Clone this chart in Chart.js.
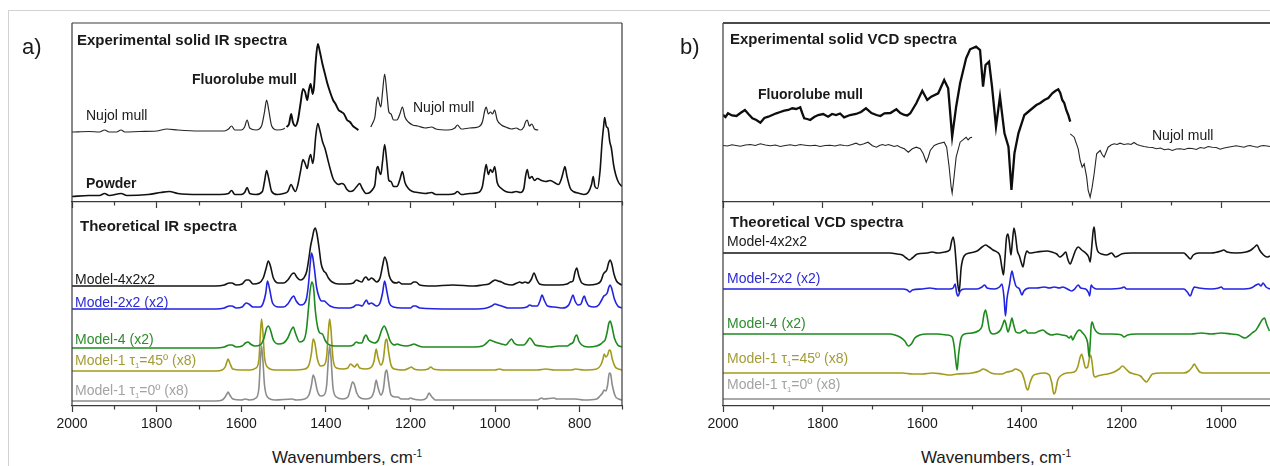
<!DOCTYPE html>
<html><head><meta charset="utf-8">
<script src="https://cdn.jsdelivr.net/npm/chart.js@4.4.1/dist/chart.umd.min.js"></script>
<style>
html,body{margin:0;padding:0;background:#fff;}
body{width:1270px;height:466px;position:relative;overflow:hidden;font-family:"Liberation Sans",Arial,sans-serif;color:#1a1a1a;}
.outer{position:absolute;left:8px;top:10px;width:1270px;height:470px;border-left:1px solid #d2d2d2;border-top:1px solid #d2d2d2;}
canvas{position:absolute;}
.lbl{position:absolute;white-space:nowrap;line-height:1;font-size:14px;}
.b{font-weight:bold;}
.t{font-size:15px;font-weight:bold;}
.pl{font-size:22px;}
.ax{font-size:17px;transform:translateX(-50%);}
sup{font-size:60%;vertical-align:6px;line-height:0;}
sub{font-size:55%;vertical-align:-3px;line-height:0;}
</style></head><body>
<div class="outer"></div>
<script>
// ---------------- DATA (wavenumber cm-1, intensity, px units) ----------------
const xTicks = [2000,1900,1800,1700,1600,1500,1400,1300,1200,1100,1000,900,800,700];
const xTickLabels = ['2000','','1800','','1600','','1400','','1200','','1000','','800',''];

// Panel a: experimental IR
const irNujolA = [[2000,0],[1960,0.5],[1935,0],[1923,2],[1912,0],[1895,0],[1884,2],[1875,0],[1840,0.5],[1800,1],[1775,3],[1750,2],[1700,1],[1660,1],[1640,1],[1630,3],[1623,6],[1615,2],[1600,2],[1592,5],[1586,12],[1580,4],[1565,2],[1552,6],[1545,20],[1540,32],[1535,22],[1528,6],[1515,2],[1500,3],[1497,4]];
const irFluoro = [[1493,5],[1487,8],[1482,18],[1478,10],[1472,6],[1466,12],[1460,28],[1454,43],[1449,40],[1444,32],[1440,42],[1436,48],[1431,38],[1428,45],[1424,70],[1419,88],[1414,80],[1408,68],[1402,58],[1396,48],[1390,40],[1383,32],[1377,28],[1370,22],[1363,20],[1357,18],[1350,12],[1343,10],[1336,6],[1330,4],[1323,2]];
const irNujolB = [[1294,5],[1288,10],[1284,15],[1280,30],[1277,35],[1273,28],[1270,25],[1266,40],[1261,58],[1256,40],[1251,20],[1246,18],[1240,12],[1232,12],[1225,18],[1219,25],[1213,15],[1205,10],[1195,7],[1183,6],[1165,4],[1150,5],[1140,3],[1110,2],[1095,4],[1089,7],[1080,3],[1060,4],[1040,5],[1030,10],[1024,22],[1021,25],[1016,18],[1011,20],[1006,18],[1001,22],[995,12],[985,7],[975,5],[961,3],[950,4],[940,2],[932,5],[928,10],[924,12],[919,6],[913,8],[907,3],[898,2]];
const irPowder = [[2000,0],[1960,1],[1935,1],[1923,3],[1912,1],[1884,3],[1870,1],[1820,2],[1790,4],[1770,5],[1750,3],[1700,2],[1650,2],[1630,3],[1623,6],[1615,2],[1600,2],[1592,4],[1586,9],[1580,3],[1565,2],[1550,5],[1545,15],[1540,26],[1535,18],[1528,5],[1515,2],[1500,3],[1490,5],[1482,12],[1477,8],[1472,5],[1466,12],[1460,25],[1454,37],[1449,33],[1444,28],[1440,37],[1436,42],[1431,33],[1428,40],[1424,60],[1419,73],[1414,66],[1408,55],[1402,48],[1396,38],[1390,28],[1383,18],[1377,14],[1370,12],[1363,13],[1357,12],[1350,7],[1343,5],[1335,6],[1327,10],[1320,13],[1314,8],[1305,3],[1296,4],[1288,8],[1284,12],[1280,27],[1277,30],[1273,24],[1270,22],[1266,35],[1261,52],[1256,35],[1251,16],[1246,15],[1240,10],[1232,10],[1225,17],[1219,25],[1213,14],[1205,8],[1195,5],[1183,4],[1165,3],[1150,4],[1140,2],[1110,2],[1095,3],[1089,5],[1080,2],[1060,3],[1040,4],[1030,10],[1024,26],[1021,32],[1016,22],[1011,27],[1006,24],[1001,30],[995,14],[985,8],[975,5],[961,4],[950,5],[940,4],[932,8],[928,20],[924,27],[919,18],[913,20],[907,16],[900,18],[890,16],[880,15],[870,16],[860,14],[850,12],[843,18],[838,26],[835,30],[830,20],[822,8],[815,5],[800,3],[790,2],[780,4],[772,12],[768,20],[764,10],[758,8],[752,25],[747,55],[743,72],[741,79],[737,70],[733,68],[729,55],[725,48],[720,32],[715,22],[708,14],[700,10]];

// Panel a: theoretical IR
const irM4x2x2 = [[2000,0],[1660,0],[1640,1],[1628,3],[1622,3],[1612,1],[1598,2],[1588,6],[1582,6],[1572,2],[1558,3],[1548,8],[1541,18],[1536,25],[1531,20],[1524,8],[1512,3],[1500,3],[1490,6],[1480,12],[1475,13],[1469,9],[1460,6],[1452,8],[1445,15],[1440,28],[1436,40],[1432,48],[1428,56],[1425,58],[1421,52],[1416,38],[1411,22],[1405,15],[1400,13],[1394,8],[1385,4],[1370,2],[1350,2],[1335,3],[1328,6],[1322,5],[1315,4],[1309,8],[1305,9],[1299,6],[1292,8],[1288,7],[1280,4],[1272,8],[1266,20],[1261,29],[1256,24],[1250,10],[1242,4],[1233,3],[1228,4],[1220,2],[1200,2],[1192,4],[1187,4],[1178,1],[1150,0],[1100,1],[1050,0],[1030,1],[1015,2],[1005,5],[1000,6],[993,5],[985,4],[975,2],[960,1],[948,3],[942,4],[936,3],[929,4],[922,3],[914,7],[908,13],[902,7],[895,2],[880,1],[850,1],[830,2],[822,4],[816,5],[811,14],[807,18],[802,10],[795,3],[780,1],[760,2],[750,5],[744,12],[740,14],[736,16],[731,24],[728,26],[724,22],[719,12],[713,5],[705,2],[700,1]];
const irM2x2 = [[2000,0],[1660,0],[1640,1],[1628,3],[1622,3],[1612,1],[1598,2],[1588,6],[1582,5],[1572,2],[1555,2],[1548,6],[1542,16],[1538,28],[1533,20],[1526,6],[1512,2],[1500,2],[1490,5],[1481,11],[1476,13],[1470,8],[1460,4],[1452,5],[1446,10],[1441,25],[1437,45],[1434,56],[1431,52],[1427,40],[1422,22],[1416,12],[1410,8],[1404,8],[1398,6],[1390,3],[1370,1],[1345,1],[1335,2],[1328,4],[1322,4],[1314,3],[1308,7],[1304,9],[1299,5],[1292,6],[1288,5],[1280,3],[1272,6],[1266,16],[1261,28],[1256,18],[1250,6],[1240,2],[1220,1],[1200,1],[1193,3],[1188,3],[1178,1],[1100,0],[1050,0],[1020,1],[1008,3],[1000,5],[993,4],[985,3],[970,1],[940,1],[925,2],[918,4],[912,3],[900,3],[894,8],[889,14],[884,9],[876,3],[860,2],[840,1],[826,4],[820,10],[816,14],[811,8],[804,4],[797,5],[792,11],[789,13],[785,8],[778,3],[765,2],[755,4],[748,9],[743,13],[739,14],[735,16],[731,22],[728,24],[724,20],[718,10],[710,3],[700,1]];
const irM4 = [[2000,0],[1660,0],[1640,1],[1628,3],[1622,3],[1612,1],[1598,2],[1590,5],[1584,6],[1578,4],[1568,2],[1555,3],[1546,10],[1540,20],[1536,22],[1531,18],[1524,8],[1512,4],[1500,5],[1490,10],[1482,18],[1477,21],[1472,15],[1462,6],[1452,8],[1446,18],[1441,40],[1437,58],[1433,66],[1429,60],[1425,38],[1419,20],[1414,15],[1408,14],[1402,8],[1395,4],[1380,2],[1360,2],[1345,2],[1335,3],[1328,6],[1322,5],[1315,5],[1309,11],[1305,13],[1299,8],[1292,6],[1285,5],[1276,8],[1268,18],[1262,22],[1256,17],[1248,7],[1238,3],[1231,4],[1225,3],[1210,2],[1198,3],[1192,4],[1186,3],[1170,1],[1100,1],[1050,1],[1030,2],[1020,5],[1012,8],[1006,7],[1000,6],[993,5],[985,4],[975,3],[966,7],[961,9],[955,5],[945,3],[932,3],[925,6],[918,10],[913,8],[905,3],[890,2],[870,1],[850,2],[830,2],[822,4],[815,6],[811,11],[807,13],[802,7],[795,3],[780,1],[760,2],[750,4],[745,6],[740,8],[735,16],[731,25],[728,27],[724,22],[718,10],[710,3],[700,1]];
const irM1t45 = [[2000,0],[1660,0],[1645,1],[1638,4],[1634,9],[1631,12],[1627,8],[1620,2],[1600,1],[1580,1],[1565,3],[1558,12],[1555,35],[1552,52],[1549,40],[1545,14],[1538,4],[1520,1],[1480,1],[1450,2],[1440,6],[1434,18],[1430,32],[1426,28],[1420,12],[1412,5],[1404,6],[1398,15],[1394,40],[1391,52],[1388,42],[1383,12],[1375,3],[1360,2],[1348,3],[1342,7],[1338,6],[1332,4],[1326,7],[1320,3],[1305,2],[1292,4],[1286,10],[1281,22],[1277,14],[1270,6],[1264,12],[1259,30],[1256,32],[1252,20],[1246,6],[1238,2],[1215,1],[1203,3],[1198,4],[1192,2],[1175,1],[1158,2],[1152,4],[1146,2],[1120,1],[1000,1],[990,2],[980,1],[900,1],[880,2],[860,1],[820,1],[810,2],[790,1],[760,2],[750,6],[745,12],[742,17],[738,14],[734,16],[730,21],[727,20],[723,12],[716,4],[708,2],[700,1]];
const irM1t0 = [[2000,0],[1660,0],[1645,1],[1638,4],[1634,7],[1631,9],[1627,6],[1620,2],[1600,1],[1590,2],[1580,1],[1565,3],[1558,14],[1555,38],[1552,55],[1549,42],[1545,16],[1538,4],[1520,1],[1480,2],[1470,1],[1450,2],[1440,6],[1434,16],[1430,26],[1426,22],[1420,10],[1412,5],[1404,6],[1398,16],[1394,42],[1391,55],[1388,44],[1383,13],[1375,4],[1360,2],[1348,4],[1342,12],[1337,19],[1333,17],[1327,8],[1318,3],[1305,2],[1292,4],[1286,10],[1281,21],[1277,14],[1270,6],[1264,12],[1259,29],[1256,31],[1252,20],[1246,6],[1236,4],[1230,4],[1222,2],[1205,2],[1200,3],[1194,2],[1175,1],[1162,3],[1156,8],[1151,5],[1140,1],[1100,1],[1000,1],[980,1],[900,1],[890,3],[885,2],[860,3],[855,2],[820,2],[810,2],[790,1],[760,2],[752,5],[746,8],[742,11],[738,10],[734,16],[730,28],[727,27],[723,16],[716,5],[708,2],[700,1]];

// Panel b: experimental VCD
const vcdFluoro = [[2000,0],[1995,-2],[1990,1.7],[1982,-0.5],[1973,-1],[1965,2],[1956,5],[1949,1],[1941,-3.3],[1933,-5],[1925,-7.7],[1917,-3],[1909,-1.7],[1901,0],[1893,1.7],[1885,3],[1877,4.3],[1869,5],[1861,6.7],[1853,6],[1845,7.7],[1841,2],[1837,-3.3],[1831,-4],[1825,-5],[1817,-2],[1809,0],[1799,1],[1789,-1.7],[1781,1],[1773,0],[1765,1.5],[1757,-2.3],[1745,0],[1733,1],[1723,3],[1713,6.7],[1702,2],[1692,0],[1684,-1],[1676,1.7],[1664,2],[1652,5.7],[1644,2],[1636,0],[1630,-0.5],[1624,1.7],[1612,11.7],[1600,24.3],[1590,15],[1582,18.3],[1568,21.7],[1556,35],[1548,26.7],[1540,-21.7],[1532,8.3],[1524,31.7],[1512,56.7],[1504,65.7],[1492,68.3],[1484,65],[1478,28.3],[1473,50],[1466,53.3],[1460,28.3],[1452,-11.7],[1444,18.3],[1435,-18.3],[1427,-31.7],[1421,-75],[1415,-38.3],[1407,-18.3],[1395,0],[1383,5],[1371,10],[1363,12],[1355,15],[1347,17],[1339,21.7],[1333,24],[1327,25.7],[1323,22],[1319,15],[1315,12],[1311,5],[1307,0],[1303,-6.7]];
const vcdNujolA = [[2000,0],[1991,-0.5],[1982,0.7],[1974,0],[1965,-0.7],[1955,0.5],[1945,1],[1935,0],[1925,1.7],[1915,0.5],[1905,-0.3],[1895,0.5],[1885,-1],[1875,0],[1865,0.7],[1855,-0.2],[1845,1],[1835,0.3],[1825,-0.3],[1815,0.2],[1805,-1],[1795,0],[1785,0.3],[1775,-0.5],[1765,0.7],[1757,0],[1749,-0.3],[1741,1],[1733,2.3],[1725,0.5],[1717,1.7],[1709,3.3],[1700,-0.3],[1692,-1.7],[1686,0],[1680,1],[1674,0],[1668,1],[1662,0],[1656,-1],[1650,0],[1644,-1.7],[1636,-3.3],[1628,-6.7],[1620,-3.3],[1612,-1.7],[1604,-3.3],[1598,-8.3],[1592,-16.7],[1588,-11.7],[1584,-5],[1576,0],[1568,1.7],[1556,3.3],[1551,-1.7],[1546,-21.7],[1542,-41.7],[1540,-47.7],[1537,-35],[1532,-11.7],[1524,3.3],[1516,6.7],[1512,8.3],[1508,5.7],[1504,7.7],[1500,8.3]];
const vcdNujolB = [[1303,11.7],[1295,8.3],[1287,-3.3],[1283,-15],[1279,-21.7],[1275,-18.3],[1270,-31.7],[1267,-45],[1263,-51.7],[1259,-41.7],[1255,-28.3],[1250,-8.3],[1243,-5],[1239,-9],[1235,-11.7],[1231,-6.7],[1227,-1.7],[1221,0.5],[1215,1.7],[1209,1],[1203,2.3],[1195,1],[1187,1.7],[1181,1],[1175,3],[1169,1],[1163,0],[1155,-1],[1146,-1.7],[1138,-2],[1130,-3.3],[1122,-2.5],[1114,-4.3],[1106,-3.5],[1098,-5],[1090,-3.5],[1082,-3.3],[1074,-4],[1066,-2.7],[1058,-3],[1050,-4],[1042,-2],[1034,-2.7],[1026,-1],[1018,-1.7],[1010,-2],[1002,-3.7],[994,-2.5],[986,-1.7],[978,-1],[970,-0.3],[962,-1],[954,-1.7],[948,-0.5],[942,0],[935,-1],[927,-1.7],[921,-0.5],[915,0],[908,-0.5],[902,-1]];

// Panel b: theoretical VCD
const vcdM4x2x2 = [[2000,0],[1665,0],[1650,-1],[1640,-2],[1632,-5],[1626,-7],[1620,-5],[1610,-1],[1590,0],[1580,1],[1570,0],[1555,1],[1545,3],[1541,12],[1538,16],[1535,8],[1532,-10],[1529,-30],[1526,-39],[1522,-15],[1516,-3],[1505,0],[1490,2],[1480,6],[1473,8],[1466,6],[1458,3],[1450,1],[1444,-3],[1440,-15],[1437,-22],[1434,-5],[1431,15],[1428,19],[1425,10],[1422,-2],[1419,12],[1416,25],[1413,18],[1409,2],[1405,-3],[1401,-10],[1398,-14],[1394,-4],[1390,2],[1385,0],[1370,1],[1350,2],[1340,1],[1330,-1],[1324,-4],[1318,-2],[1312,1],[1308,-6],[1303,-11],[1298,-5],[1292,3],[1287,6],[1280,3],[1272,0],[1266,-4],[1263,-9],[1260,5],[1257,22],[1255,26],[1252,12],[1248,2],[1240,-1],[1230,-2],[1220,0],[1212,-4],[1207,-3],[1200,-1],[1180,0],[1150,0],[1100,0],[1075,0],[1068,-3],[1062,-6],[1056,-2],[1045,0],[1020,0],[1000,2],[995,3],[988,1],[970,0],[950,1],[940,3],[933,6],[928,8],[923,3],[915,-2],[908,-4],[902,-3]];
const vcdM2x2 = [[2000,0],[1665,0],[1640,0],[1630,-1],[1625,-3],[1620,-1],[1600,0],[1585,1],[1570,0],[1545,0],[1538,1],[1534,5],[1531,-4],[1528,-7],[1524,-2],[1515,0],[1490,0],[1480,2],[1475,4],[1470,1],[1455,0],[1445,2],[1440,5],[1436,-8],[1433,-27],[1430,-10],[1425,4],[1420,18],[1417,12],[1412,3],[1405,0],[1400,-6],[1396,-2],[1385,1],[1370,1],[1355,2],[1345,1],[1335,2],[1325,1],[1318,2],[1305,-1],[1300,-2],[1294,0],[1287,4],[1282,1],[1272,0],[1266,-4],[1264,-7],[1261,4],[1258,2],[1250,0],[1230,0],[1200,1],[1195,2],[1190,0],[1150,0],[1100,0],[1075,0],[1068,-3],[1062,-7],[1058,-2],[1054,2],[1045,1],[1020,0],[1005,1],[1000,2],[995,0],[960,0],[940,1],[930,4],[925,5],[920,3],[916,6],[910,2],[902,0]];
const vcdM4 = [[2000,0],[1665,0],[1655,-1],[1645,-3],[1635,-7],[1628,-12],[1622,-10],[1615,-4],[1605,-1],[1590,0],[1570,0],[1550,-1],[1540,-3],[1536,-12],[1532,-30],[1530,-36],[1527,-20],[1522,-4],[1515,0],[1500,1],[1488,3],[1480,8],[1476,20],[1473,24],[1470,18],[1465,4],[1458,0],[1450,1],[1443,4],[1438,10],[1435,14],[1432,10],[1428,2],[1424,8],[1420,16],[1417,10],[1412,2],[1405,1],[1398,3],[1393,4],[1388,1],[1375,1],[1365,3],[1358,4],[1350,1],[1340,-1],[1330,0],[1320,-1],[1310,-2],[1305,-4],[1301,-2],[1298,-6],[1294,-2],[1288,3],[1284,4],[1278,1],[1272,-3],[1268,-9],[1265,-23],[1263,-10],[1261,8],[1259,12],[1255,6],[1250,2],[1240,0],[1220,0],[1200,-1],[1195,-3],[1188,-1],[1170,0],[1150,0],[1100,0],[1060,0],[1040,1],[1020,0],[1000,1],[980,0],[965,-1],[958,-3],[952,-4],[945,-2],[938,1],[930,4],[925,8],[918,14],[913,16],[909,10],[903,3]];
const vcdM1t45 = [[2000,0],[1665,0],[1640,0],[1620,-1],[1600,-1],[1580,0],[1560,-1],[1545,-2],[1530,-1],[1500,0],[1485,2],[1478,4],[1472,3],[1462,0],[1450,-1],[1440,-1],[1430,1],[1420,2],[1413,4],[1407,3],[1400,0],[1395,-7],[1391,-15],[1388,-17],[1384,-10],[1378,-3],[1370,-1],[1355,0],[1345,-2],[1340,-10],[1336,-21],[1333,-19],[1328,-7],[1320,-2],[1310,0],[1295,1],[1288,6],[1283,16],[1280,19],[1277,14],[1272,5],[1268,6],[1264,16],[1262,18],[1259,10],[1256,-2],[1253,-4],[1248,-3],[1240,-2],[1228,-1],[1215,1],[1205,4],[1198,7],[1193,5],[1185,1],[1175,-1],[1162,-3],[1155,-7],[1150,-9],[1145,-6],[1138,-1],[1120,0],[1100,0],[1075,0],[1065,2],[1058,6],[1054,9],[1050,6],[1043,1],[1035,0],[1015,0],[1000,0],[950,0],[902,0]];
const vcdM1t0 = [[2000,0],[1500,0],[902,0]];

// ---------------- LAYOUT / STYLE ----------------
const COL = {black:'#141414', blue:'#2323e2', green:'#1d8a1d', olive:'#a29a1c', gray:'#8c8c8c', axis:'#3a3a3a'};
const boxes = {
  aTop: {l:72.3, r:622, t:23, b:202, xmin:700, labels:false, right:true, top:true, topW:1.2},
  aBot: {l:72.3, r:622, t:202, b:406, xmin:700, labels:true, right:true, top:false},
  bTop: {l:723.3, r:1270, t:23, b:202, xmin:902, labels:false, right:false, top:true, topW:2},
  bBot: {l:723.3, r:1270, t:202, b:406, xmin:902, labels:true, right:false, top:false}
};
const off = {
  irNujol:70, irPowder:5.5,
  irM4x2x2:120, irM2x2:97, irM4:58, irM1t45:35, irM1t0:5,
  vcdFluoro:87, vcdNujol:56.5,
  vcdM4x2x2:153, vcdM2x2:117, vcdM4:72, vcdM1t45:33, vcdM1t0:7
};

Chart.defaults.font.family = '"Liberation Sans", Arial, sans-serif';
Chart.defaults.font.size = 14;
Chart.defaults.color = '#1a1a1a';

const framePlugin = {
  id:'frame',
  afterDraw(chart, args, o){
    const {ctx, chartArea:a} = chart;
    ctx.save();
    ctx.strokeStyle = COL.axis; ctx.lineWidth = 1.2;
    ctx.beginPath();
    ctx.moveTo(a.left, a.bottom); ctx.lineTo(a.left, a.top);
    if (o.right) { ctx.moveTo(a.right, a.top); ctx.lineTo(a.right, a.bottom); }
    ctx.stroke();
    if (o.top) {
      ctx.lineWidth = o.topW || 1.2;
      ctx.strokeStyle = o.topW > 1.5 ? '#4a4a4a' : COL.axis;
      ctx.beginPath(); ctx.moveTo(a.left, a.top); ctx.lineTo(a.right, a.top); ctx.stroke();
    }
    const xs = chart.scales.x;
    ctx.strokeStyle = COL.axis; ctx.lineWidth = 1.2;
    ctx.beginPath();
    for (const v of xTicks) {
      if (v % 200 === 0 || v < xs.min || v > xs.max) continue;
      const px = Math.round(xs.getPixelForValue(v)) + 0.5;
      ctx.moveTo(px, xs.top); ctx.lineTo(px, xs.top + 3.5);
    }
    ctx.stroke();
    ctx.restore();
  }
};

function pts(arr, o){ return arr.map(([w,v]) => ({x:w, y:o+v})); }
function ds(arr, o, color, width, tension){
  return {data:pts(arr,o), borderColor:color, borderWidth:width, pointRadius:0, fill:false,
          cubicInterpolationMode: tension ? 'monotone' : 'default', tension:0};
}

function makeChart(box, datasets){
  const padL = 40, padR = box.right ? 40 : 0, padT = 6;
  const axisH = box.labels ? 34 : 8;
  const W = box.r - box.l, H = box.b - box.t;
  const cv = document.createElement('canvas');
  cv.width = Math.round(W + padL + padR);
  cv.height = Math.round(H + padT + axisH);
  cv.style.left = (box.l - padL) + 'px';
  cv.style.top = (box.t - padT) + 'px';
  cv.style.width = cv.width + 'px';
  cv.style.height = cv.height + 'px';
  document.body.appendChild(cv);
  const ticksIn = xTicks.filter(v => v >= box.xmin);
  return new Chart(cv, {
    type:'line',
    data:{datasets},
    options:{
      responsive:false, animation:false, devicePixelRatio:1,
      layout:{padding:{left:padL, right:padR, top:padT, bottom:0}},
      plugins:{legend:{display:false}, tooltip:{enabled:false}, frame:{top:box.top, right:box.right, topW:box.topW}},
      scales:{
        x:{type:'linear', reverse:true, min:box.xmin, max:2000,
           afterBuildTicks:(s)=>{ s.ticks = ticksIn.map(v=>({value:v})); },
           afterFit:(s)=>{ s.height = axisH; },
           border:{display:true, color:COL.axis, width:1.2},
           grid:{display:true, drawOnChartArea:false, drawTicks:true, tickLength:6,
                 tickColor:(c)=> (c.tick && c.tick.value % 200 === 0) ? COL.axis : 'rgba(0,0,0,0)', tickWidth:1.2},
           ticks:{display:box.labels, autoSkip:false, maxRotation:0, padding:4, color:'#1a1a1a',
                  font:{size:14},
                  callback:(v)=>{ const i = xTicks.indexOf(v); return i >= 0 ? xTickLabels[i] : ''; }}
        },
        y:{type:'linear', display:false, min:0, max:H}
      }
    },
    plugins:[framePlugin]
  });
}

makeChart(boxes.aTop, [
  ds(irFluoro, off.irNujol, '#0d0d0d', 1.9, true),
  ds(irNujolA, off.irNujol, '#262626', 1.2, true),
  ds(irNujolB, off.irNujol, '#262626', 1.2, true),
  ds(irPowder, off.irPowder, '#111', 1.6, true)
]);
makeChart(boxes.aBot, [
  ds(irM4x2x2, off.irM4x2x2, COL.black, 1.6, true),
  ds(irM2x2, off.irM2x2, COL.blue, 1.6, true),
  ds(irM4, off.irM4, COL.green, 1.6, true),
  ds(irM1t45, off.irM1t45, COL.olive, 1.6, true),
  ds(irM1t0, off.irM1t0, COL.gray, 1.6, true)
]);
makeChart(boxes.bTop, [
  ds(vcdFluoro, off.vcdFluoro, '#0d0d0d', 2.3, false),
  ds(vcdNujolA, off.vcdNujol, '#262626', 1.1, false),
  ds(vcdNujolB, off.vcdNujol, '#262626', 1.1, false)
]);
makeChart(boxes.bBot, [
  ds(vcdM4x2x2, off.vcdM4x2x2, COL.black, 1.6, true),
  ds(vcdM2x2, off.vcdM2x2, COL.blue, 1.6, true),
  ds(vcdM4, off.vcdM4, COL.green, 1.6, true),
  ds(vcdM1t45, off.vcdM1t45, COL.olive, 1.6, true),
  ds(vcdM1t0, off.vcdM1t0, COL.gray, 1.6, true)
]);

// ---------------- TEXT ----------------
const labels = [
  ['a)', 22, 47, 'pl', '#1a1a1a'],
  ['Experimental solid IR spectra', 77, 39, 't', '#1a1a1a'],
  ['Fluorolube mull', 192, 79, 'b', '#1a1a1a'],
  ['Nujol mull', 86, 115, '', '#1a1a1a'],
  ['Nujol mull', 413, 107, '', '#1a1a1a'],
  ['Powder', 86, 183, 'b', '#1a1a1a'],
  ['Theoretical IR spectra', 80, 225, 't', '#1a1a1a'],
  ['Model-4x2x2', 75, 279, '', '#1a1a1a'],
  ['Model-2x2 (x2)', 75, 302, '', '#2b2bd4'],
  ['Model-4 (x2)', 75, 339, '', '#2d8d2d'],
  ['Model-1 τ<sub>1</sub>=45º (x8)', 75, 360, '', '#a39c36'],
  ['Model-1 τ<sub>1</sub>=0º (x8)', 75, 390, '', '#a3a3a3'],
  ['b)', 680, 47, 'pl', '#1a1a1a'],
  ['Experimental solid VCD spectra', 730, 38, 't', '#1a1a1a'],
  ['Fluorolube mull', 758, 94, 'b', '#1a1a1a'],
  ['Nujol mull', 1152, 135, '', '#1a1a1a'],
  ['Theoretical VCD spectra', 730, 221, 't', '#1a1a1a'],
  ['Model-4x2x2', 727, 241, '', '#1a1a1a'],
  ['Model-2x2 (x2)', 727, 278, '', '#2b2bd4'],
  ['Model-4 (x2)', 727, 323, '', '#2d8d2d'],
  ['Model-1 τ<sub>1</sub>=45º (x8)', 727, 358, '', '#a39c36'],
  ['Model-1 τ<sub>1</sub>=0º (x8)', 727, 384, '', '#a3a3a3'],
  ['Wavenumbers, cm<sup>-1</sup>', 347, 457, 'ax', '#1a1a1a'],
  ['Wavenumbers, cm<sup>-1</sup>', 996, 457, 'ax', '#1a1a1a']
];
const sizes = {pl:22, t:15, b:14, ax:17, '':14};
for (const [txt, x, cy, cls, col] of labels) {
  const d = document.createElement('div');
  d.className = 'lbl ' + cls;
  d.innerHTML = txt;
  d.style.left = x + 'px';
  d.style.top = (cy - sizes[cls]/2) + 'px';
  d.style.color = col;
  document.body.appendChild(d);
}
</script>
</body></html>
